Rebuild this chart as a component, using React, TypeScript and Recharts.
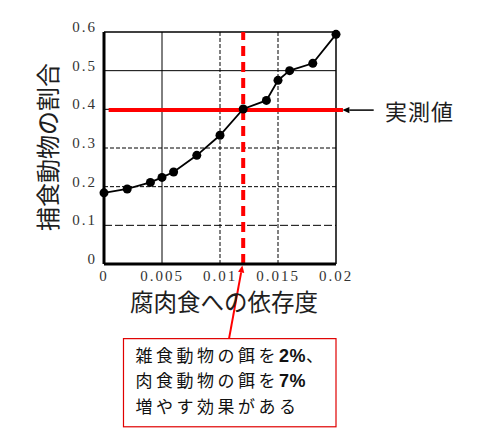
import React from "react";
import { LineChart, Line, XAxis, YAxis, ReferenceLine, ReferenceArea } from "recharts";

// 腐肉食への依存度 と 捕食動物の割合
const dependence = [0, 0.002, 0.004, 0.005, 0.006, 0.008, 0.01, 0.012, 0.014, 0.015, 0.016, 0.018, 0.02];
const predatorShare = [0.184, 0.194, 0.211, 0.224, 0.238, 0.281, 0.333, 0.401, 0.423, 0.475, 0.5, 0.519, 0.594];

const xTicks = [0, 0.005, 0.01, 0.015, 0.02];
const yTicks = [0, 0.1, 0.2, 0.3, 0.4, 0.5, 0.6];

// 実測値とそれに対応する依存度
const observedShare = 0.398;
const observedDependence = 0.012;

const noteLines = [
  ["雑食動物の餌を", "2%", "、"],
  ["肉食動物の餌を", "7%", ""],
  ["増やす効果がある", "", ""],
];

const JP = '"Noto Sans CJK JP", "Noto Sans", sans-serif';
const SERIF = '"Liberation Serif", "DejaVu Serif", serif';

const data = dependence.map((x, i) => ({ x, y: predatorShare[i] }));

// グリッド線の種類
const hDash = (v: number) => (v >= 0.35 ? undefined : v < 0.15 ? "8 3" : "4 2");
const vDash = (v: number) => (v < 0.0075 ? undefined : "4 2");

// 矢印付きの線
const arrowShape = (color: string, width: number, head: number) => (p: any) => {
  const { x1, y1, x2, y2 } = p;
  const dx = x2 - x1;
  const dy = y2 - y1;
  const len = Math.sqrt(dx * dx + dy * dy) || 1;
  const ux = dx / len;
  const uy = dy / len;
  const bx = x2 - ux * head;
  const by = y2 - uy * head;
  const hw = head * 0.45;
  return (
    <g>
      <line x1={x1} y1={y1} x2={bx} y2={by} stroke={color} strokeWidth={width} />
      <polygon
        points={`${x2},${y2} ${bx - uy * hw},${by + ux * hw} ${bx + uy * hw},${by - ux * hw}`}
        fill={color}
      />
    </g>
  );
};

const noteBox = (p: any) => {
  const { x, y, width, height } = p;
  return (
    <g>
      <rect x={x} y={y} width={width} height={height} fill="#fff" stroke="#e00000" strokeWidth={1.2} />
      {noteLines.map((ln, i) => (
        <text
          key={i}
          x={x + 12}
          y={y + 23 + i * 25.5}
          style={{ fontFamily: JP, fontSize: 17, letterSpacing: 3.5 }}
          fill="#111"
        >
          {ln[0]}
          {ln[1] && (
            <tspan
              style={{ fontFamily: '"Liberation Sans", Arial, sans-serif', fontWeight: "bold", fontSize: 18, letterSpacing: 0.5 }}
            >
              {ln[1]}
            </tspan>
          )}
          {ln[2] && <tspan>{ln[2]}</tspan>}
        </text>
      ))}
    </g>
  );
};

const tickStyle = { fontFamily: SERIF, fontSize: 15, letterSpacing: 2 };

const xTick = (p: any) => (
  <text x={p.x} y={p.y} textAnchor="middle" style={tickStyle} fill="#333">
    {String(p.payload.value)}
  </text>
);

const yTick = (p: any) => (
  <text x={p.x} y={p.y} textAnchor="end" style={tickStyle} fill="#333">
    {String(p.payload.value)}
  </text>
);

export default function App() {
  return (
    <div style={{ position: "absolute", left: 0, top: 0, width: 483, height: 441, background: "#fff" }}>
      <LineChart
        width={483}
        height={441}
        data={data}
        margin={{ top: 32, right: 147, left: 44, bottom: 147 }}
        style={{ overflow: "visible" }}
      >
        <XAxis
          dataKey="x"
          type="number"
          domain={[0, 0.02]}
          ticks={xTicks}
          height={30}
          tickSize={0}
          tickMargin={17}
          tick={xTick}
          axisLine={{ stroke: "#000", strokeWidth: 3 }}
          tickLine={false}
          label={{
            content: (lp: any) => (
              <text
                x={lp.viewBox.x + lp.viewBox.width / 2 + 4}
                y={301}
                textAnchor="middle"
                dominantBaseline="central"
                style={{ fontFamily: JP, fontSize: 23.5 }}
                fill="#1e1e1e"
              >
                腐肉食への依存度
              </text>
            ),
          }}
        />
        <YAxis
          dataKey="y"
          type="number"
          domain={[0, 0.6]}
          ticks={yTicks}
          width={60}
          tickSize={0}
          tickMargin={7}
          tick={yTick}
          axisLine={{ stroke: "#000", strokeWidth: 3 }}
          tickLine={false}
          label={{
            content: (lp: any) => {
              const cx = 46.5;
              const cy = lp.viewBox.y + lp.viewBox.height / 2 - 1;
              return (
                <text
                  x={cx}
                  y={cy}
                  textAnchor="middle"
                  dominantBaseline="central"
                  transform={`rotate(-90 ${cx} ${cy})`}
                  style={{ fontFamily: JP, fontSize: 24 }}
                  fill="#1e1e1e"
                >
                  捕食動物の割合
                </text>
              );
            },
          }}
        />

        {yTicks.slice(1, -1).map((v) => (
          <ReferenceLine key={"h" + v} y={v} stroke="#000" strokeWidth={1} strokeDasharray={hDash(v)} />
        ))}
        {xTicks.slice(1, -1).map((v) => (
          <ReferenceLine key={"v" + v} x={v} stroke="#000" strokeWidth={1} strokeDasharray={vDash(v)} />
        ))}
        <ReferenceLine y={0.6} stroke="#000" strokeWidth={1.5} />
        <ReferenceLine x={0.02} stroke="#000" strokeWidth={1.5} />

        <Line
          dataKey="y"
          stroke="#000"
          strokeWidth={1.8}
          dot={{ r: 4.5, fill: "#000", stroke: "#000", strokeWidth: 0 }}
          isAnimationActive={false}
        />

        <ReferenceLine x={observedDependence} stroke="#ff0000" strokeWidth={4} strokeDasharray="10 6" />
        <ReferenceLine
          segment={[
            { x: 0.0004, y: observedShare },
            { x: 0.0206, y: observedShare },
          ]}
          stroke="#ff0000"
          strokeWidth={4}
          ifOverflow="visible"
        />
        <ReferenceLine
          segment={[
            { x: 0.02325, y: observedShare },
            { x: 0.02055, y: observedShare },
          ]}
          ifOverflow="visible"
          shape={arrowShape("#000", 1.5, 7)}
          label={{
            content: () => (
              <text
                x={385}
                y={110}
                dominantBaseline="central"
                style={{ fontFamily: JP, fontSize: 22, letterSpacing: 1 }}
                fill="#1e1e1e"
              >
                実測値
              </text>
            ),
          }}
        />

        <ReferenceArea
          x1={0.00168}
          x2={0.02}
          y1={-0.421}
          y2={-0.193}
          ifOverflow="visible"
          shape={noteBox}
        />
        <ReferenceLine
          segment={[
            { x: 0.01078, y: -0.193 },
            { x: 0.01193, y: -0.004 },
          ]}
          ifOverflow="visible"
          shape={arrowShape("#ff0000", 2, 7)}
        />
      </LineChart>
    </div>
  );
}
